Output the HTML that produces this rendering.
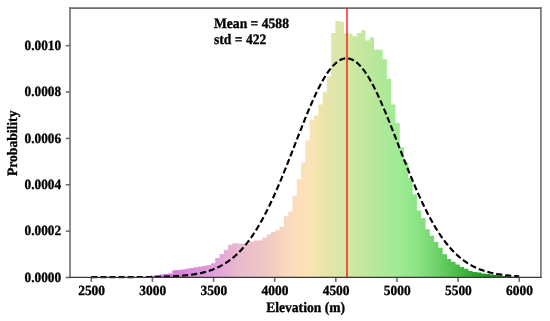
<!DOCTYPE html>
<html><head><meta charset="utf-8"><style>
html,body{margin:0;padding:0;background:#fff;}
svg{display:block;will-change:transform;}
text{text-rendering:geometricPrecision;font-family:"Liberation Serif",serif;font-weight:bold;font-size:13.45px;fill:#000;stroke:#000;stroke-width:0.3px;}
.b text{font-size:13.6px;}
</style></head><body>
<svg width="550" height="321" viewBox="0 0 550 321">
<defs><linearGradient id="g" gradientUnits="userSpaceOnUse" x1="146" y1="0" x2="515" y2="0"><stop offset="0.0000" stop-color="rgb(200, 100, 205)"/><stop offset="0.0379" stop-color="rgb(208, 112, 212)"/><stop offset="0.0840" stop-color="rgb(213, 128, 215)"/><stop offset="0.1843" stop-color="rgb(225, 160, 220)"/><stop offset="0.2493" stop-color="rgb(233, 185, 206)"/><stop offset="0.3144" stop-color="rgb(239, 197, 198)"/><stop offset="0.3496" stop-color="rgb(244, 207, 192)"/><stop offset="0.3848" stop-color="rgb(250, 218, 190)"/><stop offset="0.4173" stop-color="rgb(253, 223, 185)"/><stop offset="0.4444" stop-color="rgb(250, 228, 180)"/><stop offset="0.4715" stop-color="rgb(239, 228, 172)"/><stop offset="0.4986" stop-color="rgb(228, 229, 169)"/><stop offset="0.5257" stop-color="rgb(219, 230, 168)"/><stop offset="0.5474" stop-color="rgb(210, 231, 163)"/><stop offset="0.6070" stop-color="rgb(188, 232, 156)"/><stop offset="0.6477" stop-color="rgb(172, 233, 152)"/><stop offset="0.6883" stop-color="rgb(158, 235, 146)"/><stop offset="0.7290" stop-color="rgb(143, 229, 134)"/><stop offset="0.7696" stop-color="rgb(122, 217, 118)"/><stop offset="0.8103" stop-color="rgb(96, 201, 92)"/><stop offset="0.8509" stop-color="rgb(70, 185, 65)"/><stop offset="0.8916" stop-color="rgb(45, 165, 45)"/><stop offset="0.9322" stop-color="rgb(28, 148, 30)"/><stop offset="1.0000" stop-color="rgb(15, 122, 20)"/></linearGradient></defs>
<rect width="550" height="321" fill="#fff"/>
<path d="M146.64,277.5 L146.64,277.0 L150.93,277.0 L150.93,275.8 L155.22,275.8 L155.22,275.2 L159.51,275.2 L159.51,274.6 L163.80,274.6 L163.80,273.9 L168.09,273.9 L168.09,273.6 L172.38,273.6 L172.38,270.3 L176.67,270.3 L176.67,270.0 L180.96,270.0 L180.96,269.5 L185.25,269.5 L185.25,268.8 L189.54,268.8 L189.54,268.1 L193.83,268.1 L193.83,267.3 L198.12,267.3 L198.12,266.5 L202.41,266.5 L202.41,265.7 L206.70,265.7 L206.70,265.1 L210.99,265.1 L210.99,263.2 L215.28,263.2 L215.28,258 L219.57,258 L219.57,254 L223.86,254 L223.86,249.8 L228.15,249.8 L228.15,244.7 L232.44,244.7 L232.44,243.3 L236.73,243.3 L236.73,243.6 L241.02,243.6 L241.02,243.7 L245.31,243.7 L245.31,243.5 L249.60,243.5 L249.60,241.5 L253.89,241.5 L253.89,240.5 L258.18,240.5 L258.18,240.5 L262.47,240.5 L262.47,237.8 L266.76,237.8 L266.76,234.5 L271.05,234.5 L271.05,232 L275.34,232 L275.34,230.3 L279.63,230.3 L279.63,226.8 L283.92,226.8 L283.92,216.2 L288.21,216.2 L288.21,211.5 L292.50,211.5 L292.50,195.9 L296.79,195.9 L296.79,179 L301.08,179 L301.08,162.5 L305.37,162.5 L305.37,140.6 L309.66,140.6 L309.66,120 L313.95,120 L313.95,115.6 L318.24,115.6 L318.24,104.4 L322.53,104.4 L322.53,92.3 L326.82,92.3 L326.82,76.4 L331.11,76.4 L331.11,33.1 L335.40,33.1 L335.40,21 L339.69,21 L339.69,21.8 L343.98,21.8 L343.98,33 L348.27,33 L348.27,33.7 L352.56,33.7 L352.56,36.2 L356.85,36.2 L356.85,33.1 L361.14,33.1 L361.14,30.2 L365.43,30.2 L365.43,40.6 L369.72,40.6 L369.72,37.5 L374.01,37.5 L374.01,49.7 L378.30,49.7 L378.30,49.7 L382.59,49.7 L382.59,59.3 L386.88,59.3 L386.88,78.7 L391.17,78.7 L391.17,104.5 L395.46,104.5 L395.46,123 L399.75,123 L399.75,147.5 L404.04,147.5 L404.04,162 L408.33,162 L408.33,178 L412.62,178 L412.62,194.3 L416.91,194.3 L416.91,210.6 L421.20,210.6 L421.20,218 L425.49,218 L425.49,229.3 L429.78,229.3 L429.78,235.7 L434.07,235.7 L434.07,242 L438.36,242 L438.36,247.8 L442.65,247.8 L442.65,254.2 L446.94,254.2 L446.94,259.0 L451.23,259.0 L451.23,261.8 L455.52,261.8 L455.52,264.6 L459.81,264.6 L459.81,267.0 L464.10,267.0 L464.10,268.8 L468.39,268.8 L468.39,271.0 L472.68,271.0 L472.68,271.9 L476.97,271.9 L476.97,272.6 L481.26,272.6 L481.26,273.4 L485.55,273.4 L485.55,274.1 L489.84,274.1 L489.84,274.6 L494.13,274.6 L494.13,275 L498.42,275 L498.42,275.5 L502.71,275.5 L502.71,276 L507.00,276 L507.00,276.3 L511.29,276.3 L511.29,276.7 L515.58,276.7 L515.58,277.5 Z" fill="url(#g)"/>
<g stroke="#6e6e6e" stroke-width="1.6" fill="none">
<line x1="70" y1="7.3" x2="70" y2="277.5"/>
<line x1="540.9" y1="7.3" x2="540.9" y2="277.5"/>
<line x1="69.2" y1="8.1" x2="541.6999999999999" y2="8.1"/>
<line x1="91.30" y1="277.5" x2="91.30" y2="281.9"/><line x1="152.43" y1="277.5" x2="152.43" y2="281.9"/><line x1="213.56" y1="277.5" x2="213.56" y2="281.9"/><line x1="274.69" y1="277.5" x2="274.69" y2="281.9"/><line x1="335.82" y1="277.5" x2="335.82" y2="281.9"/><line x1="396.95" y1="277.5" x2="396.95" y2="281.9"/><line x1="458.08" y1="277.5" x2="458.08" y2="281.9"/><line x1="519.21" y1="277.5" x2="519.21" y2="281.9"/><line x1="70" y1="277.50" x2="65.8" y2="277.50"/><line x1="70" y1="231.14" x2="65.8" y2="231.14"/><line x1="70" y1="184.78" x2="65.8" y2="184.78"/><line x1="70" y1="138.42" x2="65.8" y2="138.42"/><line x1="70" y1="92.06" x2="65.8" y2="92.06"/><line x1="70" y1="45.70" x2="65.8" y2="45.70"/>
</g>
<path d="M91.30,277.10 L92.52,277.10 L93.75,277.10 L94.97,277.10 L96.19,277.10 L97.41,277.10 L98.64,277.10 L99.86,277.10 L101.08,277.10 L102.30,277.10 L103.53,277.10 L104.75,277.10 L105.97,277.10 L107.19,277.10 L108.42,277.09 L109.64,277.09 L110.86,277.09 L112.08,277.09 L113.31,277.09 L114.53,277.09 L115.75,277.09 L116.97,277.09 L118.20,277.09 L119.42,277.09 L120.64,277.09 L121.86,277.08 L123.09,277.08 L124.31,277.08 L125.53,277.08 L126.76,277.07 L127.98,277.07 L129.20,277.07 L130.42,277.07 L131.65,277.06 L132.87,277.06 L134.09,277.05 L135.31,277.05 L136.54,277.04 L137.76,277.04 L138.98,277.03 L140.20,277.03 L141.43,277.02 L142.65,277.01 L143.87,277.00 L145.09,276.99 L146.32,276.98 L147.54,276.97 L148.76,276.96 L149.98,276.95 L151.21,276.93 L152.43,276.92 L153.65,276.90 L154.88,276.88 L156.10,276.86 L157.32,276.84 L158.54,276.81 L159.77,276.79 L160.99,276.76 L162.21,276.73 L163.43,276.70 L164.66,276.66 L165.88,276.63 L167.10,276.58 L168.32,276.54 L169.55,276.49 L170.77,276.44 L171.99,276.39 L173.21,276.33 L174.44,276.26 L175.66,276.19 L176.88,276.12 L178.10,276.04 L179.33,275.96 L180.55,275.87 L181.77,275.77 L183.00,275.66 L184.22,275.55 L185.44,275.43 L186.66,275.31 L187.89,275.17 L189.11,275.02 L190.33,274.87 L191.55,274.70 L192.78,274.53 L194.00,274.34 L195.22,274.14 L196.44,273.93 L197.67,273.70 L198.89,273.46 L200.11,273.21 L201.33,272.94 L202.56,272.65 L203.78,272.35 L205.00,272.03 L206.22,271.69 L207.45,271.33 L208.67,270.96 L209.89,270.56 L211.11,270.13 L212.34,269.69 L213.56,269.22 L214.78,268.73 L216.01,268.21 L217.23,267.66 L218.45,267.08 L219.67,266.48 L220.90,265.84 L222.12,265.18 L223.34,264.48 L224.56,263.75 L225.79,262.98 L227.01,262.18 L228.23,261.35 L229.45,260.47 L230.68,259.56 L231.90,258.60 L233.12,257.61 L234.34,256.57 L235.57,255.49 L236.79,254.37 L238.01,253.20 L239.23,251.98 L240.46,250.72 L241.68,249.41 L242.90,248.05 L244.12,246.64 L245.35,245.19 L246.57,243.68 L247.79,242.11 L249.02,240.50 L250.24,238.83 L251.46,237.11 L252.68,235.34 L253.91,233.51 L255.13,231.63 L256.35,229.69 L257.57,227.70 L258.80,225.65 L260.02,223.55 L261.24,221.40 L262.46,219.19 L263.69,216.92 L264.91,214.60 L266.13,212.23 L267.35,209.81 L268.58,207.34 L269.80,204.81 L271.02,202.24 L272.24,199.62 L273.47,196.95 L274.69,194.23 L275.91,191.48 L277.14,188.68 L278.36,185.84 L279.58,182.96 L280.80,180.04 L282.03,177.09 L283.25,174.11 L284.47,171.10 L285.69,168.07 L286.92,165.01 L288.14,161.92 L289.36,158.82 L290.58,155.71 L291.81,152.58 L293.03,149.45 L294.25,146.30 L295.47,143.16 L296.70,140.02 L297.92,136.88 L299.14,133.75 L300.36,130.63 L301.59,127.53 L302.81,124.45 L304.03,121.40 L305.25,118.37 L306.48,115.37 L307.70,112.41 L308.92,109.49 L310.15,106.62 L311.37,103.79 L312.59,101.01 L313.81,98.29 L315.04,95.63 L316.26,93.04 L317.48,90.51 L318.70,88.05 L319.93,85.67 L321.15,83.37 L322.37,81.14 L323.59,79.01 L324.82,76.96 L326.04,75.01 L327.26,73.15 L328.48,71.39 L329.71,69.73 L330.93,68.18 L332.15,66.73 L333.37,65.39 L334.60,64.16 L335.82,63.05 L337.04,62.05 L338.27,61.17 L339.49,60.40 L340.71,59.75 L341.93,59.23 L343.16,58.82 L344.38,58.54 L345.60,58.38 L346.82,58.35 L348.05,58.43 L349.27,58.64 L350.49,58.97 L351.71,59.42 L352.94,60.00 L354.16,60.69 L355.38,61.50 L356.60,62.43 L357.83,63.48 L359.05,64.64 L360.27,65.91 L361.49,67.30 L362.72,68.79 L363.94,70.38 L365.16,72.08 L366.38,73.88 L367.61,75.78 L368.83,77.77 L370.05,79.85 L371.28,82.02 L372.50,84.28 L373.72,86.61 L374.94,89.03 L376.17,91.51 L377.39,94.07 L378.61,96.69 L379.83,99.38 L381.06,102.12 L382.28,104.92 L383.50,107.76 L384.72,110.66 L385.95,113.59 L387.17,116.57 L388.39,119.58 L389.61,122.62 L390.84,125.68 L392.06,128.77 L393.28,131.88 L394.50,135.00 L395.73,138.13 L396.95,141.27 L398.17,144.42 L399.40,147.56 L400.62,150.70 L401.84,153.83 L403.06,156.96 L404.29,160.07 L405.51,163.16 L406.73,166.23 L407.95,169.29 L409.18,172.31 L410.40,175.31 L411.62,178.28 L412.84,181.21 L414.07,184.11 L415.29,186.98 L416.51,189.80 L417.73,192.58 L418.96,195.32 L420.18,198.02 L421.40,200.67 L422.62,203.27 L423.85,205.83 L425.07,208.33 L426.29,210.79 L427.51,213.19 L428.74,215.54 L429.96,217.83 L431.18,220.08 L432.41,222.26 L433.63,224.40 L434.85,226.48 L436.07,228.50 L437.30,230.47 L438.52,232.39 L439.74,234.25 L440.96,236.06 L442.19,237.81 L443.41,239.51 L444.63,241.15 L445.85,242.75 L447.08,244.29 L448.30,245.77 L449.52,247.21 L450.74,248.60 L451.97,249.94 L453.19,251.23 L454.41,252.47 L455.63,253.67 L456.86,254.82 L458.08,255.93 L459.30,256.99 L460.53,258.01 L461.75,258.99 L462.97,259.93 L464.19,260.83 L465.42,261.69 L466.64,262.51 L467.86,263.29 L469.08,264.05 L470.31,264.76 L471.53,265.45 L472.75,266.10 L473.97,266.72 L475.20,267.32 L476.42,267.88 L477.64,268.42 L478.86,268.93 L480.09,269.41 L481.31,269.87 L482.53,270.31 L483.75,270.72 L484.98,271.11 L486.20,271.48 L487.42,271.83 L488.65,272.16 L489.87,272.48 L491.09,272.77 L492.31,273.05 L493.54,273.31 L494.76,273.56 L495.98,273.80 L497.20,274.02 L498.43,274.22 L499.65,274.42 L500.87,274.60 L502.09,274.77 L503.32,274.93 L504.54,275.08 L505.76,275.23 L506.98,275.36 L508.21,275.48 L509.43,275.60 L510.65,275.71 L511.87,275.81 L513.10,275.90 L514.32,275.99 L515.54,276.07 L516.76,276.15 L517.99,276.22 L519.21,276.29" fill="none" stroke="#000" stroke-width="2.15" stroke-dasharray="6.1 2.98"/>
<line x1="69.2" y1="277.35" x2="541.6999999999999" y2="277.35" stroke="#383838" stroke-width="1.25"/>
<line x1="347.0" y1="8.1" x2="347.0" y2="277.5" stroke="#f00" stroke-opacity="0.63" stroke-width="2.0"/>

<text transform="translate(91.60,294.5) scale(1,1.04)" text-anchor="middle">2500</text><text transform="translate(152.73,294.5) scale(1,1.04)" text-anchor="middle">3000</text><text transform="translate(213.86,294.5) scale(1,1.04)" text-anchor="middle">3500</text><text transform="translate(274.99,294.5) scale(1,1.04)" text-anchor="middle">4000</text><text transform="translate(336.12,294.5) scale(1,1.04)" text-anchor="middle">4500</text><text transform="translate(397.25,294.5) scale(1,1.04)" text-anchor="middle">5000</text><text transform="translate(458.38,294.5) scale(1,1.04)" text-anchor="middle">5500</text><text transform="translate(519.51,294.5) scale(1,1.04)" text-anchor="middle">6000</text><text transform="translate(61.2,281.80) scale(1,1.06)" text-anchor="end" style="font-size:13.33px">0.0000</text><text transform="translate(61.2,235.44) scale(1,1.06)" text-anchor="end" style="font-size:13.33px">0.0002</text><text transform="translate(61.2,189.08) scale(1,1.06)" text-anchor="end" style="font-size:13.33px">0.0004</text><text transform="translate(61.2,142.72) scale(1,1.06)" text-anchor="end" style="font-size:13.33px">0.0006</text><text transform="translate(61.2,96.36) scale(1,1.06)" text-anchor="end" style="font-size:13.33px">0.0008</text><text transform="translate(61.2,50.00) scale(1,1.06)" text-anchor="end" style="font-size:13.33px">0.0010</text>
<g class="b">
<text transform="translate(305.6,312.3) scale(1,1.06)" text-anchor="middle">Elevation (m)</text>
<text transform="translate(17.4,143.3) rotate(-90) scale(1,1.06)" text-anchor="middle">Probability</text>
<text transform="translate(214,27.7) scale(1,1.06)">Mean = 4588</text>
<text transform="translate(214,44.4) scale(1,1.06)">std = 422</text>
</g>
</svg>
</body></html>
